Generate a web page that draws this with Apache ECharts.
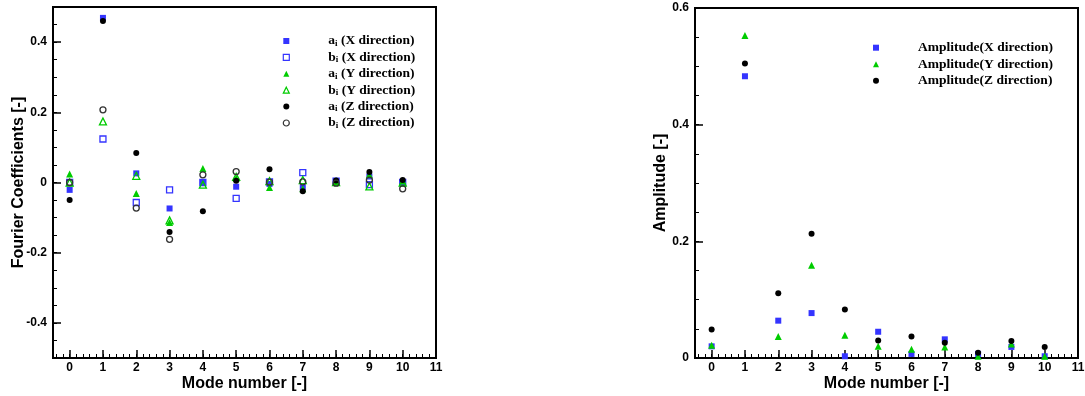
<!DOCTYPE html>
<html>
<head>
<meta charset="utf-8">
<script src="https://cdn.jsdelivr.net/npm/echarts@6/dist/echarts.min.js"></script>
<style>
html,body{margin:0;padding:0;background:#fff;}
#chart{width:1085px;height:396px;}
</style>
</head>
<body>
<div id="chart"></div>
<script>
// ---------- data ----------
const modes = [0, 1, 2, 3, 4, 5, 6, 7, 8, 9, 10];
const xTickLabels = [0, 1, 2, 3, 4, 5, 6, 7, 8, 9, 10, 11];
const leftYTicks = [-0.4, -0.2, 0, 0.2, 0.4];
const rightYTicks = [0, 0.2, 0.4, 0.6];

// Fourier coefficients (left panel)
const aX = [-0.021, 0.469, 0.026, -0.074, 0.000, -0.012, -0.004, -0.014, 0.004, 0.017, 0.001];
const bX = [0.000, 0.124, -0.057, -0.021, 0.000, -0.045, 0.002, 0.028, 0.004, -0.006, 0.000];
const aY = [0.024, 0.520, -0.031, -0.114, 0.040, 0.012, -0.014, -0.018, 0.002, 0.022, 0.004];
const bY = [0.000, 0.174, 0.019, -0.108, -0.006, 0.016, 0.004, 0.007, 0.001, -0.011, 0.000];
const aZ = [-0.050, 0.460, 0.084, -0.141, -0.082, 0.005, 0.038, -0.025, 0.006, 0.030, 0.007];
const bZ = [0.000, 0.207, -0.073, -0.162, 0.022, 0.031, 0.001, 0.002, -0.002, 0.007, -0.018];

// Amplitudes (right panel)
const ampX = [0.020, 0.483, 0.064, 0.077, 0.003, 0.045, 0.007, 0.032, 0.007, 0.019, 0.003];
const ampY = [0.022, 0.553, 0.037, 0.159, 0.039, 0.020, 0.015, 0.019, 0.003, 0.024, 0.003];
const ampZ = [0.049, 0.505, 0.111, 0.213, 0.083, 0.030, 0.037, 0.026, 0.009, 0.029, 0.019];

const leftNames = ['ai (X direction)', 'bi (X direction)', 'ai (Y direction)', 'bi (Y direction)', 'ai (Z direction)', 'bi (Z direction)'];
const rightNames = ['Amplitude(X direction)', 'Amplitude(Y direction)', 'Amplitude(Z direction)'];

// ---------- styling ----------
const BLUE = '#3434ff';
const GREEN = '#00cc00';
const BLACK = '#000000';
const SANS = 'Liberation Sans, Arial, sans-serif';
const SERIF = 'Liberation Serif, Times New Roman, serif';

function range(a, b, step) { const r = []; for (let v = a; v <= b + 1e-9; v += step) r.push(Math.round(v * 1000) / 1000); return r; }
const xMinor = range(-0.4, 11, 0.2);
const leftYMinor = range(-0.5, 0.5, 0.05);
const rightYMinor = range(0, 0.6, 0.05);

const labelStyle = { fontFamily: SANS, fontWeight: 'bold', fontSize: 12, color: '#000' };
const nameStyle = { fontFamily: SANS, fontWeight: 'bold', fontSize: 16, color: '#000' };

function xMain(g) {
  return {
    type: 'value', gridIndex: g, min: -0.5, max: 11, position: 'bottom',
    axisLine: { show: false, onZero: false },
    axisTick: { show: true, inside: true, length: 8, customValues: xTickLabels, lineStyle: { color: '#000', width: 1.5 } },
    axisLabel: Object.assign({ customValues: xTickLabels, margin: 4 }, labelStyle),
    splitLine: { show: false },
    name: 'Mode number [-]', nameLocation: 'middle', nameGap: 18, nameMoveOverlap: false, nameTextStyle: nameStyle
  };
}
function xMinorAxis(g) {
  return {
    type: 'value', gridIndex: g, min: -0.5, max: 11, position: 'bottom',
    axisLine: { show: false, onZero: false },
    axisTick: { show: true, inside: true, length: 4, customValues: xMinor, lineStyle: { color: '#000', width: 1 } },
    axisLabel: { show: false }, splitLine: { show: false }
  };
}
function yMain(g, min, max, ticks, name, gap) {
  return {
    type: 'value', gridIndex: g, min: min, max: max, position: 'left',
    axisLine: { show: false, onZero: false },
    axisTick: { show: true, inside: true, length: 8, customValues: ticks, lineStyle: { color: '#000', width: 1.5 } },
    axisLabel: Object.assign({ customValues: ticks, margin: 6 }, labelStyle),
    splitLine: { show: false },
    name: name, nameLocation: 'middle', nameGap: gap, nameMoveOverlap: false, nameTextStyle: nameStyle
  };
}
function yMinorAxis(g, min, max, ticks) {
  return {
    type: 'value', gridIndex: g, min: min, max: max, position: 'left',
    axisLine: { show: false, onZero: false },
    axisTick: { show: true, inside: true, length: 4, customValues: ticks, lineStyle: { color: '#000', width: 1 } },
    axisLabel: { show: false }, splitLine: { show: false }
  };
}

function pts(vals) { return modes.map((m, i) => [m, vals[i]]); }

function filled(name, symbol, size, color, vals, xi, yi) {
  return { type: 'scatter', name: name, xAxisIndex: xi, yAxisIndex: yi, symbol: symbol, symbolSize: size,
    itemStyle: { color: color, opacity: 1 }, data: pts(vals), clip: true, emphasis: { disabled: true } };
}
function hollow(name, symbol, size, color, vals, xi, yi) {
  return { type: 'scatter', name: name, xAxisIndex: xi, yAxisIndex: yi, symbol: symbol, symbolSize: size,
    itemStyle: { color: 'rgba(255,255,255,0)', borderColor: color, borderWidth: 1.3, opacity: 1 }, data: pts(vals), clip: true, emphasis: { disabled: true } };
}

const LEG_PAD = [0, 0, 0, 34];
const legendText = {
  fontFamily: SERIF, fontWeight: 'bold', fontSize: 13.5, color: '#000', lineHeight: 14, padding: LEG_PAD,
  rich: {
    n: { fontFamily: SERIF, fontWeight: 'bold', fontSize: 13.5, color: '#000', lineHeight: 14 },
    s: { fontFamily: SERIF, fontWeight: 'bold', fontSize: 9, color: '#000', lineHeight: 6, verticalAlign: 'bottom' }
  }
};
const leftIcons = ['rect', 'rect', 'triangle', 'triangle', 'circle', 'circle'];
const rightIcons = ['rect', 'triangle', 'circle'];

const option = {
  animation: false,
  backgroundColor: '#fff',
  grid: [
    { left: 53, top: 7, width: 383, height: 351, show: true, borderColor: '#000', borderWidth: 2, backgroundColor: 'transparent', containLabel: false, outerBoundsMode: 'none' },
    { left: 695, top: 8, width: 383, height: 350, show: true, borderColor: '#000', borderWidth: 2, backgroundColor: 'transparent', containLabel: false, outerBoundsMode: 'none' }
  ],
  xAxis: [xMain(0), xMinorAxis(0), xMain(1), xMinorAxis(1)],
  yAxis: [
    yMain(0, -0.5, 0.5, leftYTicks, 'Fourier Coefficients [-]', 26),
    yMinorAxis(0, -0.5, 0.5, leftYMinor),
    yMain(1, 0, 0.6, rightYTicks, 'Amplitude [-]', 26),
    yMinorAxis(1, 0, 0.6, rightYMinor)
  ],
  legend: [
    {
      orient: 'vertical', left: 282.7, top: 34, padding: 0, itemWidth: 6, itemHeight: 6, itemGap: 2.4,
      symbolKeepAspect: true, selectedMode: false, textStyle: legendText,
      data: leftNames.map((n, i) => ({ name: n, icon: leftIcons[i], itemStyle: { borderWidth: (i % 2 === 1) ? 1.2 : 0 } })),
      formatter: function (name) {
        const m = name.match(/^([ab])i (.*)$/);
        return '{n|' + m[1] + '}{s|i}{n| ' + m[2] + '}';
      }
    },
    {
      orient: 'vertical', left: 873, top: 40.7, padding: 0, itemWidth: 6, itemHeight: 6, itemGap: 2.5,
      symbolKeepAspect: true, selectedMode: false,
      textStyle: { fontFamily: SERIF, fontWeight: 'bold', fontSize: 13.5, color: '#000', lineHeight: 14, padding: LEG_PAD },
      data: rightNames.map((n, i) => ({ name: n, icon: rightIcons[i], itemStyle: { borderWidth: 0 } }))
    }
  ],
  series: [
    filled(leftNames[0], 'rect', 6, BLUE, aX, 0, 0),
    hollow(leftNames[1], 'rect', 6, BLUE, bX, 0, 0),
    filled(leftNames[2], 'triangle', 7, GREEN, aY, 0, 0),
    hollow(leftNames[3], 'triangle', 7, GREEN, bY, 0, 0),
    filled(leftNames[4], 'circle', 6, BLACK, aZ, 0, 0),
    hollow(leftNames[5], 'circle', 6, '#333', bZ, 0, 0),
    filled(rightNames[0], 'rect', 6, BLUE, ampX, 2, 2),
    filled(rightNames[1], 'triangle', 7, GREEN, ampY, 2, 2),
    filled(rightNames[2], 'circle', 6, BLACK, ampZ, 2, 2)
  ]
};

const chart = echarts.init(document.getElementById('chart'), null, { renderer: 'canvas' });
chart.setOption(option);
</script>
</body>
</html>
